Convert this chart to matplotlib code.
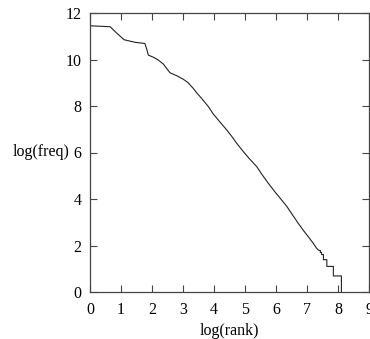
import matplotlib
matplotlib.use("Agg")
import matplotlib.pyplot as plt

# rank/frequency curve, natural log on both axes
log_rank = [0.0, 0.65, 0.85, 1.1, 1.45, 1.77, 1.83, 1.88, 2.04, 2.2, 2.37,
            2.47, 2.58, 2.8, 3.01, 3.15, 3.33, 3.45, 3.6, 3.82, 3.98, 4.2,
            4.41, 4.58, 4.73, 4.95, 5.15, 5.38, 5.55, 5.75, 5.97, 6.18,
            6.35, 6.5, 6.72, 6.9, 7.04, 7.2, 7.31, 7.38,
            7.38, 7.43, 7.43, 7.47, 7.47, 7.53, 7.53, 7.64, 7.64, 7.85,
            7.85, 8.11, 8.11]
log_freq = [11.45, 11.41, 11.15, 10.85, 10.74, 10.69, 10.45, 10.19, 10.10,
            9.98, 9.80, 9.62, 9.43, 9.30, 9.15, 9.02, 8.76, 8.55, 8.33,
            7.97, 7.65, 7.30, 6.97, 6.68, 6.40, 6.03, 5.72, 5.39, 5.05,
            4.68, 4.30, 3.96, 3.68, 3.38, 2.95, 2.62, 2.38, 2.10, 1.88, 1.79,
            1.79, 1.79, 1.70, 1.70, 1.61, 1.61, 1.39, 1.39, 1.10,
            1.10, 0.69, 0.69, 0.0]

x_ticks = [0, 1, 2, 3, 4, 5, 6, 7, 8, 9]
y_ticks = [0, 2, 4, 6, 8, 10, 12]

plt.rcParams['font.family'] = ['Liberation Serif', 'DejaVu Serif']
plt.rcParams['font.size'] = 11.5

fig = plt.figure(figsize=(3.70, 3.39), dpi=100)
ax = fig.add_axes([90 / 370, 47 / 339, 279 / 370, 279 / 339])

ax.plot(log_rank, log_freq, color='#222222', linewidth=0.8)

ax.set_xlim(0, 9)
ax.set_ylim(0, 12)
ax.set_xticks(x_ticks)
ax.set_yticks(y_ticks)
ax.tick_params(direction='in', length=5, width=0.8, color='#444444',
               top=True, right=True, labelsize=11.5)
ax.tick_params(axis='x', pad=7)
ax.tick_params(axis='y', pad=6)
for s in ax.spines.values():
    s.set_linewidth(0.9)
    s.set_color('#444444')

ax.set_xlabel('log(rank)', fontsize=11.5, labelpad=3.5)
ax.text(-0.072, 0.5, 'log(freq)', transform=ax.transAxes, ha='right',
        va='center', fontsize=11.5)

fig.savefig('out.png', dpi=100)
